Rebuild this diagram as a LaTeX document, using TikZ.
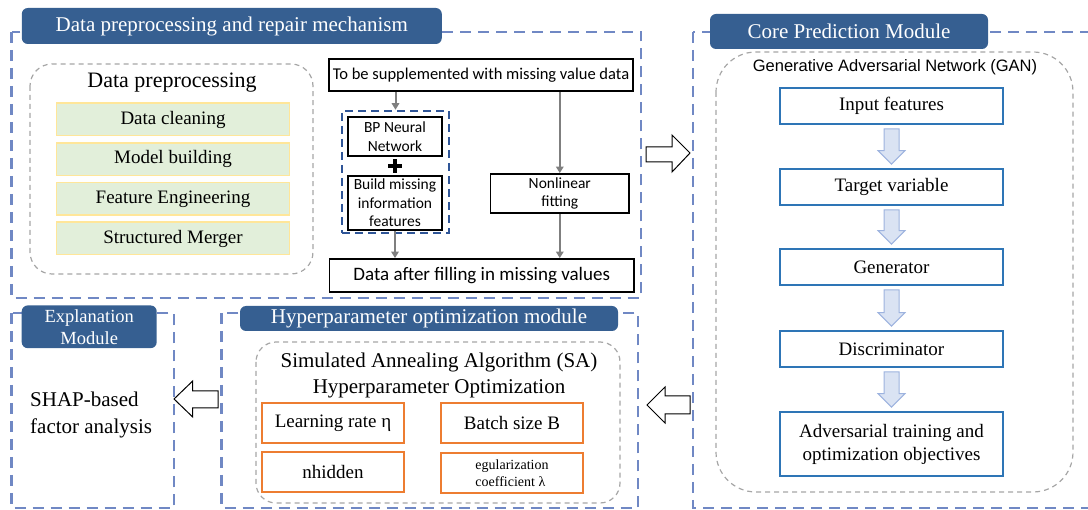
\documentclass[tikz,border=0pt]{standalone}
\usepackage{fontspec}
\setmainfont{Liberation Serif}
\newfontfamily\calfont{Carlito}
\newfontfamily\arialfont{Liberation Sans}
\usetikzlibrary{arrows.meta}
\definecolor{titleblue}{RGB}{54,95,145}
\definecolor{dashblue}{RGB}{112,136,196}
\definecolor{groupblue}{RGB}{47,85,151}
\definecolor{boxblue}{RGB}{46,117,182}
\definecolor{greenfill}{RGB}{226,239,218}
\definecolor{greenedge}{RGB}{255,230,153}
\definecolor{orangeedge}{RGB}{237,125,49}
\definecolor{arrowfill}{RGB}{218,227,243}
\definecolor{arrowedge}{RGB}{157,179,223}
\definecolor{graydash}{RGB}{166,166,166}
\definecolor{grayarrow}{RGB}{127,127,127}
\tikzset{
  modbox/.style={draw=dashblue, line width=2.5pt, dash pattern=on 11pt off 7pt},
  titlebox/.style={fill=titleblue, rounded corners=6pt, text=white, inner sep=0pt, align=center, font=\fontsize{21}{25}\selectfont},
  grpbox/.style={draw=graydash, line width=1.2pt, dash pattern=on 5pt off 4pt},
  blackbox/.style={draw=black, line width=1.8pt, inner sep=0pt, align=center, font=\calfont\fontsize{15.5}{18.5}\selectfont},
  greenbox/.style={draw=greenedge, fill=greenfill, line width=1.5pt, inner sep=0pt, minimum width=233pt, minimum height=32.5pt, font=\fontsize{19}{22}\selectfont},
  bluebox/.style={draw=boxblue, line width=1.8pt, inner sep=0pt, minimum width=223pt, align=center, font=\fontsize{19}{23}\selectfont},
  orangebox/.style={draw=orangeedge, line width=2pt, inner sep=0pt, minimum width=142pt, minimum height=40pt, align=center, font=\fontsize{19}{22}\selectfont},
  garrow/.style={draw=grayarrow, line width=2pt, -{Triangle[length=6.5pt,width=7.5pt]}},
  hollow/.style={draw=black, fill=white, line width=1pt, line join=miter},
  lbarrow/.style={draw=arrowedge, fill=arrowfill, line width=1pt}
}
\begin{document}
\begin{tikzpicture}[x=1pt,y=-1pt]
\useasboundingbox (0,0) rectangle (1088,510);
% ---------- module frames ----------
\draw[modbox] (11.5,32) rectangle (641,298);
\draw[modbox] (693,32) rectangle (1100,508);
\draw[modbox] (11.7,313) rectangle (174,508);
\draw[modbox] (221.7,313) rectangle (638,508);
% ---------- titles ----------
\node[titlebox, minimum width=420pt, minimum height=36pt] (t1) at (231.8,26) {Data preprocessing and repair mechanism};
\node[titlebox, minimum width=278pt, minimum height=35pt] (t2) at (849,31.5) {Core Prediction Module};
\node[titlebox, minimum width=135pt, minimum height=42.7pt, font=\fontsize{18.5}{22}\selectfont] (t3) at (89.2,326.8) {Explanation\\Module};
\node[titlebox, minimum width=378pt, minimum height=25pt] (t4) at (429,318.5) {Hyperparameter optimization module};
% ---------- data preprocessing ----------
\draw[grpbox, rounded corners=22pt] (30,64) rectangle (313,274);
\node[font=\fontsize{22}{26}\selectfont] (dp) at (172,83) {Data preprocessing};
\node[greenbox] (g1) at (173,119.5) {Data cleaning};
\node[greenbox] (g2) at (173,159.2) {Model building};
\node[greenbox] (g3) at (173,198.8) {Feature Engineering};
\node[greenbox] (g4) at (173,238.5) {Structured Merger};
% ---------- repair mechanism ----------
\node[blackbox, minimum width=304pt, minimum height=32pt, font=\calfont\fontsize{16.5}{19}\selectfont] (top) at (481,75) {To be supplemented with missing value data};
\node[draw=groupblue, line width=2.5pt, dash pattern=on 8pt off 5pt, minimum width=107pt, minimum height=122pt, inner sep=0pt] (bpg) at (395.5,172) {};
\node[blackbox, minimum width=94pt, minimum height=39pt] (bp) at (395,136.5) {BP Neural\\Network};
\node[blackbox, minimum width=94pt, minimum height=54pt] (build) at (395,203) {Build missing\\information\\features};
\node[blackbox, minimum width=138.5pt, minimum height=39pt] (nl) at (559.8,193.5) {Nonlinear\\fitting};
\node[blackbox, minimum width=304.5pt, minimum height=33pt, font=\calfont\fontsize{19}{22}\selectfont] (out) at (481.7,275.5) {Data after filling in missing values};
\coordinate (plus) at (395,166);
\draw[line width=4.5pt] ([xshift=-7pt]plus) -- ([xshift=7pt]plus);
\draw[line width=4.5pt] ([yshift=-7pt]plus) -- ([yshift=7pt]plus);
\draw[garrow] (bpg.north |- top.south) -- (bpg.north);
\draw[garrow] (nl.north |- top.south) -- (nl.north);
\draw[garrow] (build.south) -- (build.south |- out.north);
\draw[garrow] (nl.south) -- (nl.south |- out.north);
% ---------- core prediction ----------
\draw[grpbox, rounded corners=40pt] (716,52) rectangle (1073,492);
\node[font=\arialfont\fontsize{16.5}{19}\selectfont] (gan) at (895,67) {Generative Adversarial Network (GAN)};
\node[bluebox, minimum height=36pt] (b1) at (891.5,106) {Input features};
\node[bluebox, minimum height=36pt] (b2) at (891.5,187) {Target variable};
\node[bluebox, minimum height=36pt] (b3) at (891.5,267) {Generator};
\node[bluebox, minimum height=36pt] (b4) at (891.5,349) {Discriminator};
\node[bluebox, minimum height=64pt] (b5) at (891.5,444) {Adversarial training and\\optimization objectives};
\foreach \a/\b in {b1/b2,b2/b3,b3/b4,b4/b5}{
  \path ([yshift=-4pt]\a.south) coordinate (s) ([yshift=4pt]\b.north) coordinate (e);
  \draw[lbarrow] ([xshift=-7.5pt]s) -- ([xshift=7.5pt]s) -- ([xshift=7.5pt,yshift=13.5pt]e) -- ([xshift=13.5pt,yshift=13.5pt]e) -- (e) -- ([xshift=-13.5pt,yshift=13.5pt]e) -- ([xshift=-7.5pt,yshift=13.5pt]e) -- cycle;
}
% ---------- hyperparameter ----------
\draw[grpbox, rounded corners=20pt] (256,342) rectangle (620,503);
\node[align=center, font=\fontsize{21}{26}\selectfont] (sa) at (439,375) {Simulated Annealing Algorithm (SA)\\Hyperparameter Optimization};
\node[orangebox] (o1) at (333,423) {Learning rate η};
\node[orangebox] (o2) at (512,423) {Batch size B};
\node[orangebox] (o3) at (333,472) {nhidden};
\node[orangebox, font=\fontsize{14}{17.5}\selectfont, align=left] (o4) at (512,473) {egularization\\coefficient λ};
% ---------- explanation ----------
\node[anchor=west, align=left, font=\fontsize{21}{26.5}\selectfont, inner sep=0pt] (shap) at (30,415) {SHAP-based\\factor analysis};
% ---------- hollow block arrows ----------
\draw[hollow] (646,147) -- (672,147) -- (672,135) -- (690,153) -- (672,172) -- (672,162) -- (646,162) -- cycle;
\draw[hollow] (690,396) -- (665,396) -- (665,387) -- (647,405) -- (665,423) -- (665,414) -- (690,414) -- cycle;
\draw[hollow] (218,391) -- (192.7,391) -- (192.7,381) -- (174,399) -- (192.7,417) -- (192.7,408) -- (218,408) -- cycle;
\end{tikzpicture}
\end{document}
